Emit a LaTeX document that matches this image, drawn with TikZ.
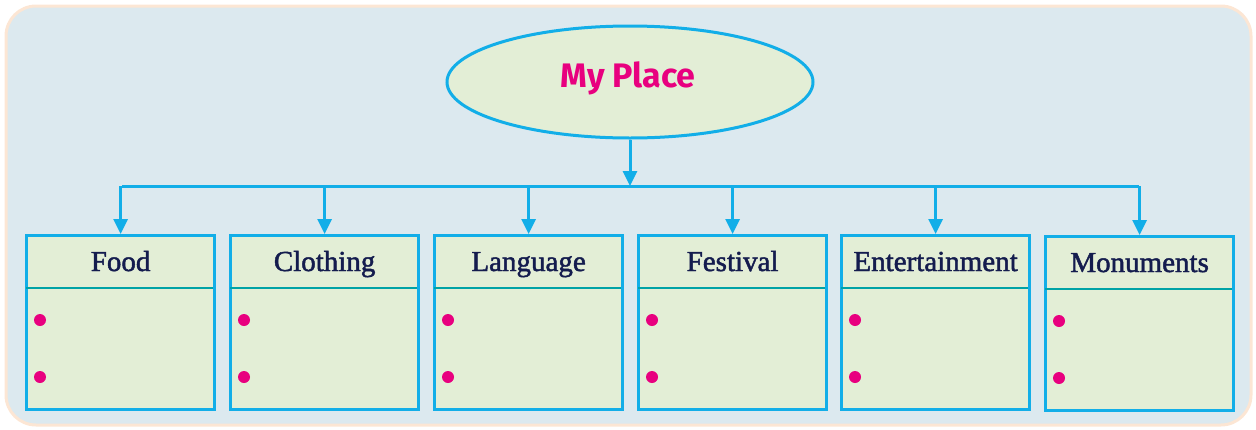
\documentclass[tikz,border=0pt]{standalone}
\usepackage{fontspec}
\setmainfont{Liberation Serif}
\newfontfamily\titlefont{Fira Sans}
\newfontfamily\catfont[FakeBold=1.6]{Liberation Serif}
\usetikzlibrary{arrows.meta,shapes.geometric,calc}
\definecolor{bgblue}{HTML}{DCE9EF}
\definecolor{bgedge}{HTML}{FCE6D4}
\definecolor{boxfill}{HTML}{E3EED6}
\definecolor{cyanline}{HTML}{12AEE8}
\definecolor{tealline}{HTML}{00A3A6}
\definecolor{magenta}{HTML}{E8007F}
\definecolor{navy}{HTML}{141C4E}
\tikzset{
  x=1pt, y=-1pt,
  conn/.style={draw=cyanline, line width=3pt},
  arr/.style={conn, -{Triangle[length=15pt,width=14pt]}},
  catbox/.style={draw=cyanline, line width=3.2pt, fill=boxfill, minimum width=188pt, minimum height=174pt, inner sep=0pt, anchor=north west},
  cattitle/.style={font=\catfont\fontsize{29}{32}\selectfont, text=navy, anchor=base},
  sepline/.style={draw=tealline, line width=2.8pt},
  bullet/.style={circle, fill=magenta, inner sep=0pt, minimum size=12pt},
}
\begin{document}
\begin{tikzpicture}
\useasboundingbox (0,0) rectangle (1256,429);
\draw[draw=bgedge, line width=3pt, fill=bgblue, rounded corners=30pt] (6,6) rectangle (1251,425);
\node[ellipse, draw=cyanline, line width=3pt, fill=boxfill, minimum width=366pt, minimum height=112pt, inner sep=0pt] (root) at (630,82) {};
\node[font=\titlefont\bfseries\fontsize{34}{36}\selectfont, text=magenta, anchor=base] at (628,87) {My Place};
\coordinate (hub) at (630,186);
\draw[arr] (root.south) -- (hub);
\foreach \n/\bx/\by/\t in {food/25/234/Food, cloth/229/234/Clothing, lang/433/234/Language, fest/637/234/Festival, ent/840/234/Entertainment, mon/1044/235/Monuments} {
  \node[catbox] (\n) at (\bx,\by) {};
  \node[cattitle] (\n t) at ($(\n.north)+(0,37)$) {\t};
  \draw[sepline] ($(\n.north west)+(1,54)$) -- ($(\n.north east)+(-3,54)$);
  \node[bullet] (\n b1) at ($(\n.north west)+(15,86)$) {};
  \node[bullet] (\n b2) at ($(\n.north west)+(15,143)$) {};
}
\coordinate (hl) at (122,186);
\coordinate (hr) at (1139,186);
\draw[conn] (hl) -- (hr);
\foreach \n in {food,cloth,lang,fest,ent,mon} {
  \draw[arr] (hl -| \n.north) -- (\n.north);
}
\end{tikzpicture}
\end{document}
